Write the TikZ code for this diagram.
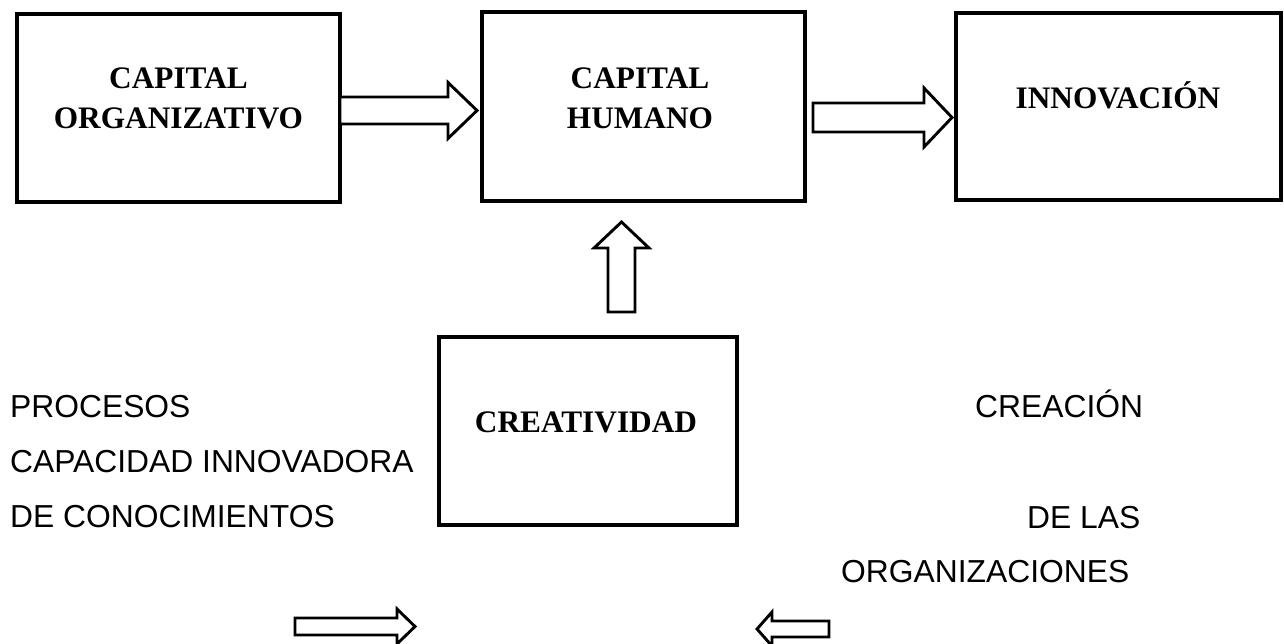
\documentclass[tikz,border=0pt]{standalone}
\usepackage{fontspec}
\setmainfont{Liberation Serif}
\newfontfamily\arialf{Liberation Sans}
\begin{document}
\begin{tikzpicture}[x=1pt,y=-1pt,
  box/.style={draw=black,line width=3.1pt,fill=white,inner sep=0pt,outer sep=0pt},
  btxt/.style={font=\fontsize{31.3}{38}\selectfont\bfseries,anchor=base,inner sep=0pt},
  ftxt/.style={font=\arialf\fontsize{31.8}{36}\selectfont,anchor=base west,inner sep=0pt},
  barrow/.style={draw=black,line width=2.9pt,fill=white,line join=miter}]
\useasboundingbox (0,0) rectangle (1284,643);
% boxes
\node[box,minimum width=323pt,minimum height=188pt] (org) at (178.5,108) {};
\node[box,minimum width=323pt,minimum height=189pt] (hum) at (643.5,106.5) {};
\node[box,minimum width=325pt,minimum height=187pt] (inn) at (1118.5,106.5) {};
\node[box,minimum width=298pt,minimum height=188pt] (cre) at (588,431) {};
% box texts
\node[btxt] (orgA) at (178.5,88) {CAPITAL};
\node[btxt] (orgB) at (178.5,128) {ORGANIZATIVO};
\node[btxt] (humA) at (640,88) {CAPITAL};
\node[btxt] (humB) at (640,128) {HUMANO};
\node[btxt] (innA) at (1118,108) {INNOVACIÓN};
\node[btxt] (creA) at (586,432) {CREATIVIDAD};
% block arrows
\coordinate (t1) at (477,110.5);
\draw[barrow] (org.east |- 0,97) -- (448,97) -- (448,82.5) -- (t1) -- (448,138.5) -- (448,124) -- (org.east |- 0,124) -- cycle;
\coordinate (t2) at (952,117.5);
\draw[barrow] (813,103) -- (924,103) -- (924,88) -- (t2) -- (924,147) -- (924,132) -- (813,132) -- cycle;
\coordinate (t3) at (621.5,222);
\draw[barrow] (608,312) -- (608,248) -- (594,248) -- (t3) -- (649,248) -- (635,248) -- (635,312) -- cycle;
\coordinate (t4) at (415,626.5);
\draw[barrow] (295,618) -- (397,618) -- (397,609) -- (t4) -- (397,644) -- (397,635) -- (295,635) -- cycle;
\coordinate (t5) at (757,629);
\draw[barrow] (829,621) -- (772,621) -- (772,612) -- (t5) -- (772,646) -- (772,637) -- (829,637) -- cycle;
% free texts
\node[ftxt] (p1) at (10,417) {PROCESOS};
\node[ftxt] (p2) at (10,472) {CAPACIDAD INNOVADORA};
\node[ftxt] (p3) at (10,527) {DE CONOCIMIENTOS};
\node[ftxt] (q1) at (975,417) {CREACIÓN};
\node[ftxt] (q2) at (1027,528) {DE LAS};
\node[ftxt] (q3) at (841,582) {ORGANIZACIONES};
\end{tikzpicture}
\end{document}
